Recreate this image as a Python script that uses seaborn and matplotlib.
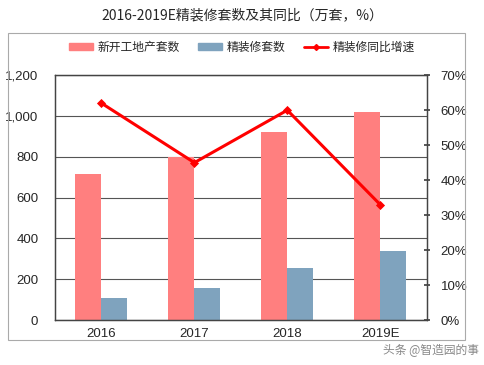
import matplotlib
matplotlib.use("Agg")
import matplotlib.pyplot as plt
from matplotlib.lines import Line2D
from matplotlib.patches import Patch, Rectangle
from matplotlib.ticker import FuncFormatter
import pandas as pd
import seaborn as sns

# data
years = ["2016", "2017", "2018", "2019E"]
new_starts = [715, 798, 920, 1018]      # 新开工地产套数 (万套)
decorated = [108, 157, 255, 338]        # 精装修套数 (万套)
growth = [62, 45, 60, 33]               # 精装修同比增速 (%)

pink = "#FF7F7F"
blue = "#7FA3BE"
red = "#FF0000"

sns.set_theme(style="white")
plt.rcParams["font.family"] = ["Liberation Sans", "Noto Sans CJK SC", "DejaVu Sans"]

df = pd.DataFrame({
    "year": years * 2,
    "value": new_starts + decorated,
    "series": ["新开工地产套数"] * 4 + ["精装修套数"] * 4,
})

fig = plt.figure(figsize=(4.84, 3.65), dpi=100)
ax = fig.add_axes([0.1136, 0.123, 0.768, 0.671])

# outer frame
fig.patches.append(Rectangle((8 / 484, 1 - 340 / 365), 457 / 484, 307 / 365,
                             transform=fig.transFigure, fill=False,
                             edgecolor="#aaaaaa", linewidth=0.8))

sns.barplot(data=df, x="year", y="value", hue="series", ax=ax,
            palette=[pink, blue], width=0.56, saturation=1, legend=False,
            linewidth=0)
ax.set_ylim(0, 1200)
ax.set_yticks(range(0, 1201, 200))
ax.yaxis.set_major_formatter(FuncFormatter(lambda v, p: f"{int(v):,}"))
ax.yaxis.grid(True, color="#555555", linewidth=0.8)
ax.set_axisbelow(True)
ax.set_xlim(-0.5, 3.5)
ax.set_xlabel("")
ax.set_ylabel("")
ax.tick_params(axis="y", length=0, labelsize=9.5, pad=12)
ax.tick_params(axis="x", length=0, labelsize=9.5, pad=6)
ax.set_xticks([0.5, 1.5, 2.5], minor=True)
ax.tick_params(axis="x", which="minor", direction="in", length=3, color="#444444")
for s in ax.spines.values():
    s.set_color("#444444")
    s.set_linewidth(0.9)

ax2 = ax.twinx()
sns.pointplot(x=years, y=growth, ax=ax2, color=red, markers="D",
              markersize=3, linewidth=2.2)
ax2.set_ylim(0, 70)
ax2.set_yticks(range(0, 71, 10))
ax2.yaxis.set_major_formatter(FuncFormatter(lambda v, p: f"{int(v)}%"))
ax2.tick_params(axis="y", direction="inout", length=4, color="#444444",
                labelsize=9.5, pad=8)
ax2.set_ylabel("")
ax2.set_xlim(-0.5, 3.5)
for s in ax2.spines.values():
    s.set_color("#444444")
    s.set_linewidth(0.9)

fig.text(0.5, 1 - 15 / 365, "2016-2019E精装修套数及其同比（万套，%）",
         ha="center", va="center", fontsize=10,
         family=["Noto Sans CJK SC", "DejaVu Sans"])

handles = [
    Patch(color=pink, label="新开工地产套数"),
    Patch(color=blue, label="精装修套数"),
    Line2D([], [], color=red, linewidth=2, marker="D", markersize=3,
           label="精装修同比增速"),
]
fig.legend(handles=handles, loc="center", bbox_to_anchor=(0.5, 1 - 47 / 365),
           ncol=3, frameon=False, handlelength=2.0,
           handleheight=0.5, columnspacing=1.6, handletextpad=0.4,
           prop={"family": ["Noto Sans CJK SC", "DejaVu Sans"], "size": 8.5})

fig.text(0.99, 1 - 350 / 365, "头条 @智造园的事", ha="right", va="center",
         fontsize=8.5, color="#888888", family=["Noto Sans CJK SC", "DejaVu Sans"])

fig.savefig("out.png", dpi=100)
